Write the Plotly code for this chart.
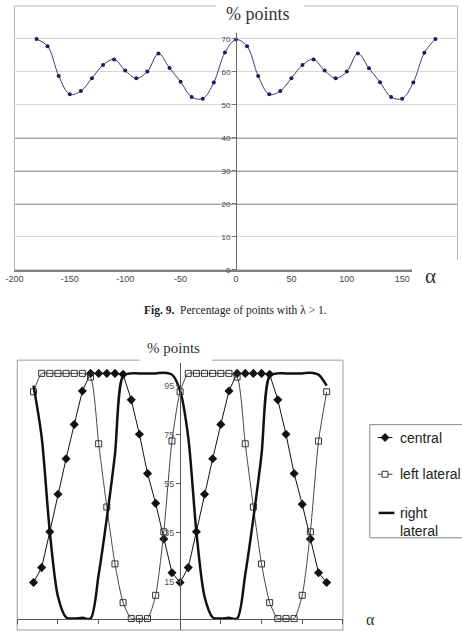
import plotly.graph_objects as go

# ---------------- data ----------------
alpha = list(range(-180, 181, 10))

pct_points = [70.0, 67.8, 58.8, 53.2, 54.2, 58.1, 62.1, 63.8, 60.4, 58.1,
              60.1, 65.6, 61.2, 57.0, 52.4, 51.9, 56.8, 65.9, 69.8,
              67.8, 58.8, 53.2, 54.2, 58.1, 62.1, 63.8, 60.4, 58.1,
              60.1, 65.6, 61.1, 56.9, 52.4, 51.9, 56.8, 65.8, 70.0]

central = [14.7, 20.8, 35.4, 50.7, 65.2, 79.2, 92.8, 100, 100, 100,
           100, 99.6, 89.2, 75.2, 59.2, 47.0, 32.5, 18.7, 14.7,
           20.8, 35.4, 50.7, 65.2, 79.2, 92.8, 100, 100, 100,
           100, 99.6, 89.2, 75.2, 59.2, 46.6, 32.5, 18.7, 14.7]

left_lateral = [92.5, 100, 100, 100, 100, 100, 100, 98.5, 71.3, 45.5,
                22.3, 6.5, 0, 0, 0, 9.5, 35.4, 72.4, 92.5,
                100, 100, 100, 100, 100, 100, 98.5, 71.3, 45.5,
                22.3, 6.5, 0, 0, 0, 9.5, 35.4, 72.4, 92.5]

right_lateral = [95, 74, 35.4, 9, 0.5, 0, 0.3, 0, 18, 41,
                 67, 99, 100, 100, 100, 100, 100.3, 99.5, 93,
                 74, 35.4, 9, 0.5, 0, 0.3, 0, 18, 41,
                 67, 99, 100, 100, 100, 100, 100.3, 99.5, 95]

legend_names = ["central", "left lateral", "right<br>lateral"]

top_xticks = [-200, -150, -100, -50, 0, 50, 100, 150]
top_xlabels = ["-200", "-150", "-100", "-50", "0", "50", "100", "150"]
top_yticks = [0, 10, 20, 30, 40, 50, 60, 70]
bot_xticks = [-200, -150, -100, -50, 0, 50, 100, 150, 200]
bot_yticks = [15, 35, 55, 75, 95]

W, H = 462, 635
def px(x):
    return x / W
def py(y):
    return 1 - y / H

SANS = "Liberation Sans, Arial, sans-serif"
SERIF = "Liberation Serif, Times New Roman, serif"

fig = go.Figure()

# top chart
fig.add_trace(go.Scatter(
    x=alpha, y=pct_points, mode="lines+markers", showlegend=False,
    line=dict(color="#3a3a8a", width=1, shape="spline", smoothing=1),
    marker=dict(size=4, color="#1c1c60"),
    xaxis="x", yaxis="y"))

# bottom chart
fig.add_trace(go.Scatter(
    x=alpha, y=central, mode="lines+markers", name="central",
    showlegend=False,
    line=dict(color="#111111", width=1),
    marker=dict(symbol="diamond", size=7, color="#111111"),
    xaxis="x2", yaxis="y2"))
fig.add_trace(go.Scatter(
    x=alpha, y=left_lateral, mode="lines+markers", name="left lateral",
    showlegend=False,
    line=dict(color="#444444", width=1, shape="spline", smoothing=0.6),
    marker=dict(symbol="square-open", size=6, color="#333333",
                line=dict(width=1)),
    xaxis="x2", yaxis="y2"))
fig.add_trace(go.Scatter(
    x=alpha, y=right_lateral, mode="lines", name="right lateral",
    showlegend=False,
    line=dict(color="#111111", width=2.5, shape="spline", smoothing=0.8),
    xaxis="x2", yaxis="y2"))

shapes = []
# top frame
shapes.append(dict(type="rect", xref="x domain", yref="y domain",
                   x0=0, x1=1, y0=0, y1=1, line=dict(color="#b5b5b5", width=1),
                   layer="below"))
for v in [20, 30, 40]:
    shapes.append(dict(type="line", xref="x domain", yref="y", x0=0, x1=1,
                       y0=v, y1=v, line=dict(color="#8a8a8a", width=1.6),
                       layer="below"))
# bottom frame
shapes.append(dict(type="rect", xref="x2 domain", yref="y2 domain",
                   x0=0, x1=1, y0=0, y1=1, line=dict(color="#9a9a9a", width=1),
                   layer="below"))
# white boxes behind titles
for (x0, x1, y0, y1) in [(211, 301, -2, 33), (411, 470, 262, 297),
                         (133, 207, 338, 366)]:
    shapes.append(dict(type="rect", xref="paper", yref="paper",
                       x0=px(x0), x1=px(x1), y0=py(y1), y1=py(y0),
                       fillcolor="white", line=dict(width=0), layer="above"))

# manual legend box
shapes.append(dict(type="rect", xref="paper", yref="paper",
                   x0=px(368), x1=px(475), y0=py(542), y1=py(428),
                   fillcolor="white", line=dict(color="#8a8a8a", width=1),
                   layer="above"))
lx0, lx1, lxm = 376, 391, 383.5
rows = [441, 478, 517]
# central symbol
shapes.append(dict(type="line", xref="paper", yref="paper",
                   x0=px(lx0), x1=px(lx1), y0=py(rows[0]), y1=py(rows[0]),
                   line=dict(color="#111111", width=1), layer="above"))
d = 4
path = "M {},{} L {},{} L {},{} L {},{} Z".format(
    px(lxm), py(rows[0] - d), px(lxm + d), py(rows[0]),
    px(lxm), py(rows[0] + d), px(lxm - d), py(rows[0]))
shapes.append(dict(type="path", xref="paper", yref="paper", path=path,
                   fillcolor="#111111", line=dict(color="#111111", width=1),
                   layer="above"))
# left lateral symbol
shapes.append(dict(type="line", xref="paper", yref="paper",
                   x0=px(lx0), x1=px(lx1), y0=py(rows[1]), y1=py(rows[1]),
                   line=dict(color="#444444", width=1), layer="above"))
s = 3
shapes.append(dict(type="rect", xref="paper", yref="paper",
                   x0=px(lxm - s), x1=px(lxm + s), y0=py(rows[1] + s), y1=py(rows[1] - s),
                   fillcolor="white", line=dict(color="#333333", width=1),
                   layer="above"))
# right lateral symbol
shapes.append(dict(type="line", xref="paper", yref="paper",
                   x0=px(lx0 + 1), x1=px(lx1 + 2), y0=py(rows[2]), y1=py(rows[2]),
                   line=dict(color="#111111", width=2.5), layer="above"))

def ann(text, x, y, font, xanchor="center", yanchor="middle", align="center"):
    return dict(text=text, x=px(x), y=py(y), xref="paper", yref="paper",
                showarrow=False, xanchor=xanchor, yanchor=yanchor,
                align=align, font=font)

lfont = dict(family=SANS, size=14, color="#222222")
annotations = [
    ann("% points", 254, 14, dict(family=SERIF, size=18, color="#333333")),
    ann("α", 430, 278, dict(family=SERIF, size=21, color="#333333")),
    ann("<b>Fig. 9.</b>&nbsp;&nbsp;Percentage of points with λ&nbsp;&gt;&nbsp;1.",
        231, 313, dict(family=SERIF, size=11.5, color="#222222")),
    ann("% points", 168, 351, dict(family=SERIF, size=15, color="#333333")),
    ann("α", 369, 635, dict(family=SERIF, size=16, color="#333333"),
        yanchor="bottom"),
    ann(legend_names[0], 397, rows[0], lfont, xanchor="left", align="left"),
    ann(legend_names[1], 397, rows[1], lfont, xanchor="left", align="left"),
    ann(legend_names[2], 397, rows[2] - 10, lfont, xanchor="left",
        yanchor="top", align="left"),
]

fig.update_layout(
    width=W, height=H, margin=dict(l=0, r=0, t=0, b=0),
    paper_bgcolor="white", plot_bgcolor="white",
    showlegend=False,
    xaxis=dict(domain=[px(5.5), px(457.5)], range=[-200, 200],
               tickvals=top_xticks, ticktext=top_xlabels, ticks="",
               showgrid=False, zeroline=False, showline=True,
               linecolor="#808080", linewidth=1.5,
               ticklabeloverflow="allow",
               tickfont=dict(family=SANS, size=9, color="#444444"),
               anchor="y"),
    yaxis=dict(domain=[py(272), py(6)], range=[0, 80],
               tickvals=top_yticks, ticks="outside", ticklen=4,
               tickcolor="#777777", showgrid=True, gridcolor="#d4d4d4",
               gridwidth=1, zeroline=False, showline=True,
               linecolor="#6a6a6a", linewidth=1,
               anchor="free", position=px(231.5),
               tickfont=dict(family=SANS, size=8, color="#444444")),
    xaxis2=dict(domain=[px(8.4), px(340.6)], range=[-200, 200],
                tickvals=bot_xticks, showticklabels=False,
                ticks="outside", ticklen=4, tickcolor="#555555",
                showgrid=False, zeroline=False, showline=True,
                linecolor="#555555", linewidth=1,
                anchor="free", position=py(623.5)),
    yaxis2=dict(domain=[0, py(363)], range=[-4.65, 105.4],
                tickvals=bot_yticks, ticks="outside", ticklen=4,
                tickcolor="#555555", showgrid=False, zeroline=False,
                showline=True, linecolor="#555555", linewidth=1,
                anchor="free", position=px(174.5),
                tickfont=dict(family=SANS, size=9, color="#555555")),
    shapes=shapes, annotations=annotations,
)

fig.write_html("out.html")
